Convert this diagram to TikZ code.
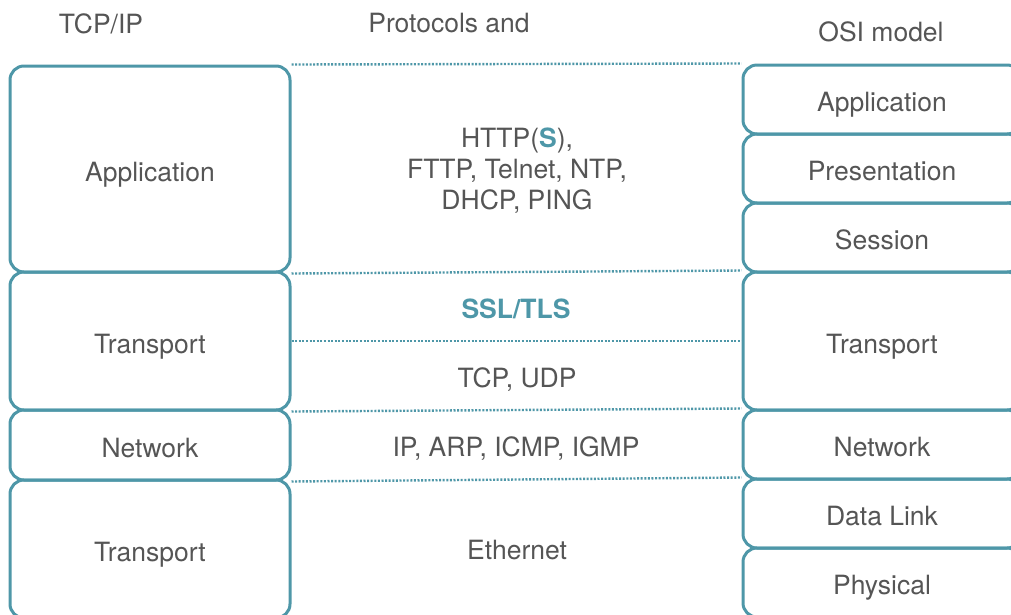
\documentclass[tikz,border=0pt]{standalone}
\usepackage{fontspec}
\setmainfont{TeX Gyre Heros}
\definecolor{osiblue}{HTML}{4E97A8}
\definecolor{txtgray}{HTML}{555555}
\begin{document}
\begin{tikzpicture}[x = 1pt, y = -1pt,
    layer/.style = {draw = osiblue, line width = 3pt, rounded corners = 14pt,
      text = txtgray, font = \fontsize{26.5}{31}\selectfont, inner sep = 0pt,
      text height = 24pt, text depth = 0pt},
    tcpbox/.style = {layer, minimum width = 280pt},
    osibox/.style = {layer, minimum width = 278pt},
    sep/.style = {osiblue, line width = 2.4pt, dash pattern = on 2pt off 1.6pt},
    txt/.style = {text = txtgray, font = \fontsize{26.5}{31}\selectfont, align = center}]
      \useasboundingbox (0,0) rectangle (1011,614);
      \clip (0,0) rectangle (1011,614);
      % headings
      \node [txt] (hleft) at (101,24) {TCP/IP};
      \node [txt] (hmid) at (449,23) {Protocols and};
      \node [txt] (hright) at (881,32) {OSI model};
      % TCP/IP layers
      \node [tcpbox, minimum height = 206pt] (tapp) at (150,169) {Application};
      \node [tcpbox, minimum height = 138pt] (ttrans) at (150,341) {Transport};
      \node [tcpbox, minimum height = 70pt] (tnet) at (150,445) {Network};
      \node [tcpbox, minimum height = 138pt] (tlink) at (150,549) {Transport};
      % OSI layers
      \node [osibox, minimum height = 69pt] (oapp) at (882,99.5) {Application};
      \node [osibox, minimum height = 69pt] (opres) at (882,168.5) {Presentation};
      \node [osibox, minimum height = 69pt] (osess) at (882,237.5) {Session};
      \node [osibox, minimum height = 138pt] (otrans) at (882,341) {Transport};
      \node [osibox, minimum height = 69pt] (onet) at (882,444.5) {Network};
      \node [osibox, minimum height = 69pt] (olink) at (882,513.5) {Data Link};
      \node [osibox, minimum height = 69pt] (ophys) at (882,582.5) {Physical};
      % protocols
      \node [txt] (papp) at (517,171)
        {HTTP(\textbf{\color{osiblue}S}),\\FTTP, Telnet, NTP,\\DHCP, PING};
      \node [txt, text = osiblue, font = \fontsize{26.5}{31}\selectfont\bfseries]
        (pssl) at (516,309) {SSL/TLS};
      \node [txt] (ptcp) at (517,380) {TCP, UDP};
      \node [txt] (pip) at (516,449) {IP, ARP, ICMP, IGMP};
      \node [txt] (peth) at (517,550) {Ethernet};
      % separators
      \draw [sep] (tapp.north east) -- (oapp.north west);
      \draw [sep] (tapp.south east) -- (otrans.north west);
      \draw [sep] (ttrans.east) -- (otrans.west);
      \draw [sep] (ttrans.south east) -- (onet.north west);
      \draw [sep] (tnet.south east) -- (olink.north west);
\end{tikzpicture}
\end{document}
